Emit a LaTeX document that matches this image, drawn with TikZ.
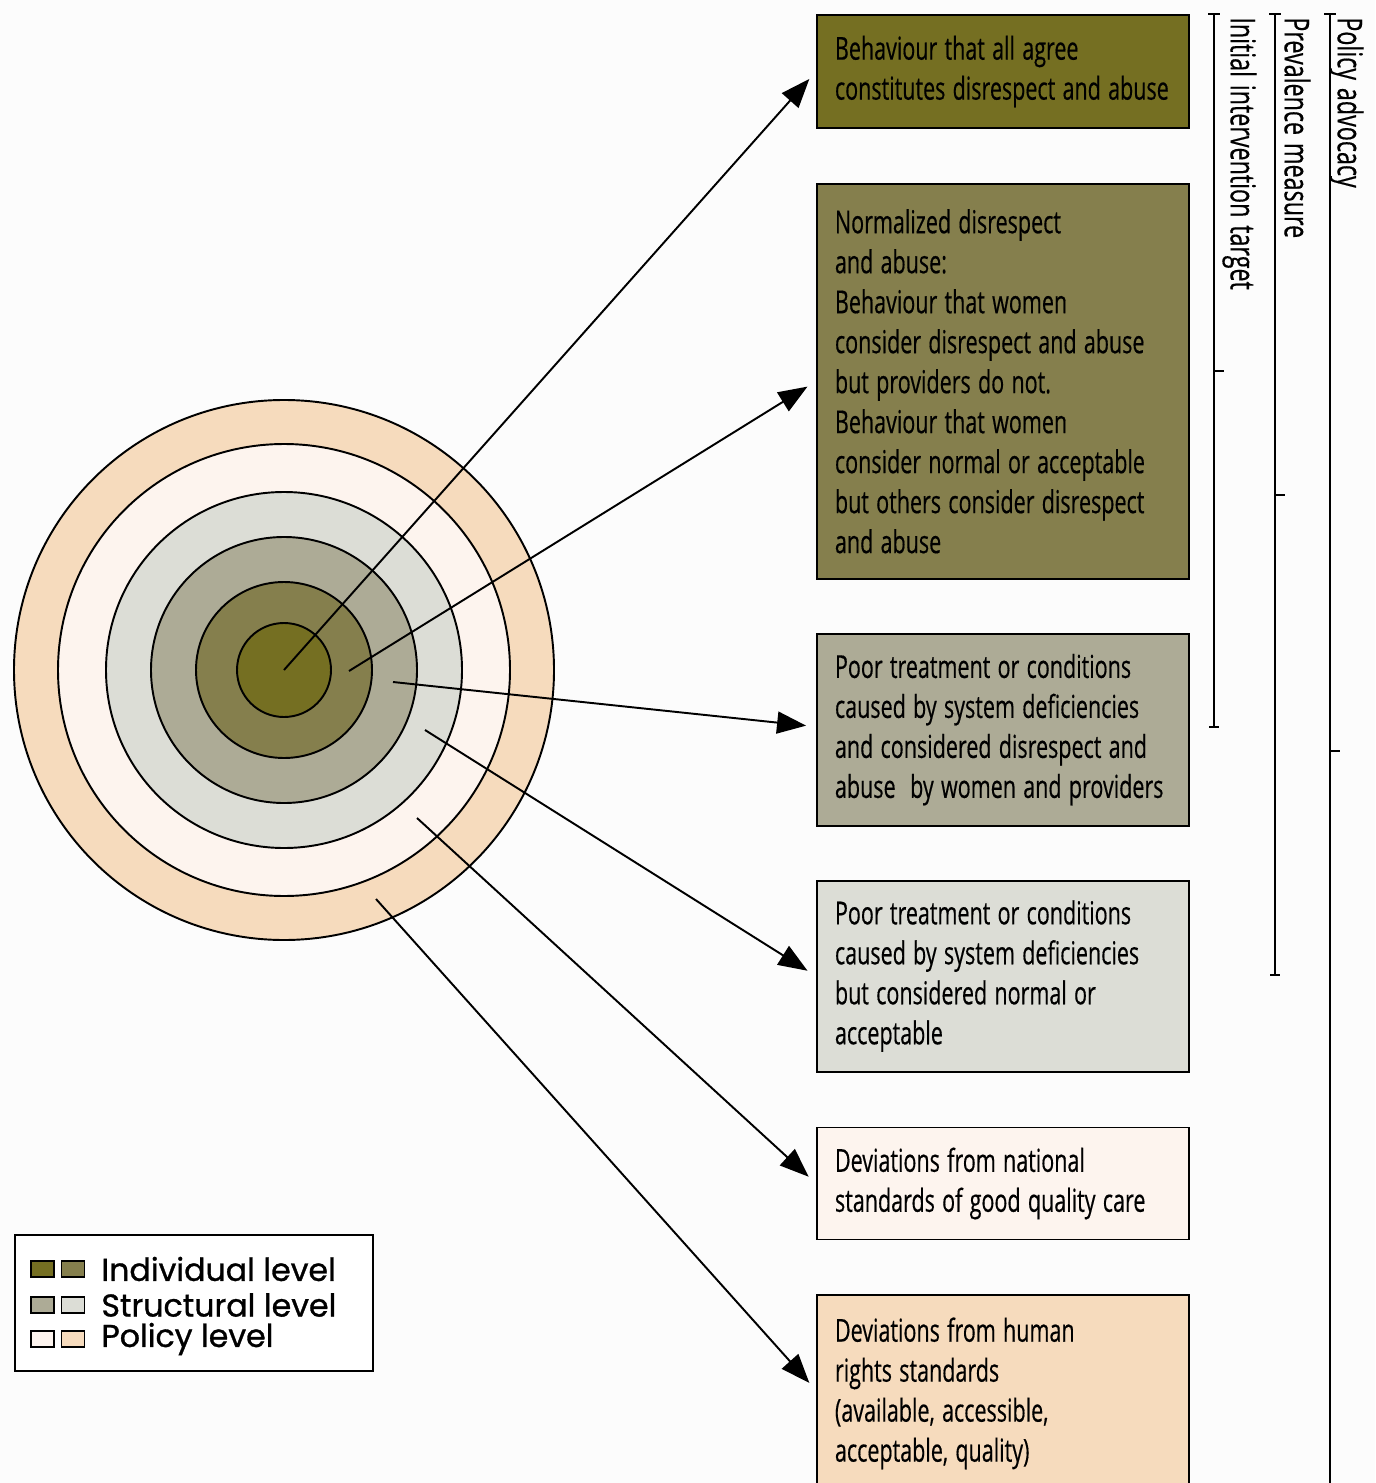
\documentclass[tikz,border=0pt]{standalone}
\usepackage{fontspec}
\usetikzlibrary{positioning,arrows.meta}
\newfontfamily\boxfont{Open Sans}[FakeStretch=0.68, FakeBold=0.4, WordSpace=1.3]
\newfontfamily\legfont{Poppins}[FakeBold=1]
\definecolor{lvlone}{HTML}{756F22}
\definecolor{lvltwo}{HTML}{857F4D}
\definecolor{lvlthree}{HTML}{ADAB96}
\definecolor{lvlfour}{HTML}{DCDDD6}
\definecolor{lvlfive}{HTML}{FDF4EE}
\definecolor{lvlsix}{HTML}{F6DBBD}
\definecolor{paper}{HTML}{FCFCFC}

\begin{document}
\begin{tikzpicture}[
    x=0.02cm, y=-0.02cm,
    ring/.style={draw, line width=1.1pt},
    box/.style={draw, rectangle, line width=1.1pt, minimum width=7.44cm, text width=6.72cm, inner xsep=0.36cm, inner ysep=0pt, align=flush left, font=\boxfont\fontsize{18pt}{22.76pt}\selectfont},
    arr/.style={-{Triangle[length=0.58cm, width=0.44cm]}, line width=1.1pt, shorten >=0.2cm},
    brk/.style={line width=1.1pt},
    side/.style={rotate=-90, anchor=north west, inner sep=0pt, font=\boxfont\fontsize{19.5pt}{22.76pt}\selectfont},
    swatch/.style={draw, line width=0.8pt, minimum width=0.46cm, minimum height=0.32cm, inner sep=0pt},
    legtext/.style={inner sep=0pt, font=\legfont\fontsize{18pt}{20pt}\selectfont}
]
\useasboundingbox (0,0) rectangle (1375,1483);
\fill[paper] (0,0) rectangle (1375,1483);
\clip (0,0) rectangle (1375,1483);

% Rings
\coordinate (ctr) at (284,670);
\draw[ring, fill=lvlsix] (ctr) circle[radius=270];
\draw[ring, fill=lvlfive] (ctr) circle[radius=226];
\draw[ring, fill=lvlfour] (ctr) circle[radius=178];
\draw[ring, fill=lvlthree] (ctr) circle[radius=133];
\draw[ring, fill=lvltwo] (ctr) circle[radius=88];
\draw[ring, fill=lvlone] (ctr) circle[radius=47];

% Boxes
\node[box, fill=lvlone, anchor=north west, minimum height=2.26cm] (agree) at (816,14) {Behaviour that all agree\\constitutes disrespect and abuse};
\node[box, fill=lvltwo, minimum height=7.9cm, below=1.08cm of agree] (normal) {Normalized disrespect\\and abuse:\\Behaviour that women\\consider disrespect and abuse\\but providers do not.\\Behaviour that women\\consider normal or acceptable\\but others consider disrespect\\and abuse};
\node[box, fill=lvlthree, minimum height=3.84cm, below=1.06cm of normal] (poorda) {Poor treatment or conditions\\caused by system deficiencies\\and considered disrespect and\\abuse\ \ by women and providers};
\node[box, fill=lvlfour, minimum height=3.82cm, below=1.06cm of poorda] (poornorm) {Poor treatment or conditions\\caused by system deficiencies\\but considered normal or\\acceptable};
\node[box, fill=lvlfive, minimum height=2.24cm, below=1.08cm of poornorm] (natstd) {Deviations from national\\standards of good quality care};
\node[box, fill=lvlsix, minimum height=3.92cm, below=1.08cm of natstd] (hrstd) {Deviations from human\\rights standards\\(available, accessible,\\acceptable, quality)};

% Arrows
\coordinate (sA) at (349,671);
\coordinate (sB) at (393,682);
\coordinate (sC) at (425,730);
\coordinate (sD) at (417,818);
\coordinate (sE) at (376,899);
\draw[arr] (ctr) -- (agree.west);
\draw[arr] (sA) -- (normal.west);
\draw[arr] (sB) -- ([yshift=0.06cm]poorda.west);
\draw[arr] (sC) -- (poornorm.west);
\draw[arr] (sD) -- (natstd.west);
\draw[arr] (sE) -- ([yshift=0.06cm]hrstd.west);

% Brackets
\coordinate (initT) at (1214,14);
\coordinate (initB) at (1214,727);
\coordinate (initM) at (1214,371);
\coordinate (prevT) at (1275,14);
\coordinate (prevB) at (1275,975);
\coordinate (prevM) at (1275,495);
\coordinate (polT) at (1330,14);
\coordinate (polB) at (1330,1483);
\coordinate (polM) at (1330,751);
\draw[brk] (initT) -- (initB);
\draw[brk] ([xshift=-0.12cm]initT) -- ([xshift=0.12cm]initT);
\draw[brk] ([xshift=-0.1cm]initB) -- ([xshift=0.1cm]initB);
\draw[brk] (initM) -- ([xshift=0.2cm]initM);
\draw[brk] (prevT) -- (prevB);
\draw[brk] ([xshift=-0.12cm]prevT) -- ([xshift=0.12cm]prevT);
\draw[brk] ([xshift=-0.1cm]prevB) -- ([xshift=0.1cm]prevB);
\draw[brk] (prevM) -- ([xshift=0.2cm]prevM);
\draw[brk] (polT) -- (polB);
\draw[brk] ([xshift=-0.12cm]polT) -- ([xshift=0.12cm]polT);
\draw[brk] (polM) -- ([xshift=0.2cm]polM);
\node[side] (initlbl) at (1257,17) {Initial intervention target};
\node[side] (prevlbl) at (1311,17) {Prevalence measure};
\node[side] (pollbl) at (1364,17) {Policy advocacy};

% Legend
\node[draw, line width=1.1pt, fill=white, anchor=north west, minimum width=7.16cm, minimum height=2.72cm] (legend) at (14,1234) {};
\node[swatch, fill=lvlone] (indA) at (42.5,1269) {};
\node[swatch, fill=lvltwo, right=0.12cm of indA] (indB) {};
\node[legtext, anchor=west, right=0.32cm of indB] (indlbl) {Individual level};
\node[swatch, fill=lvlthree] (strA) at (42.5,1305) {};
\node[swatch, fill=lvlfour, right=0.12cm of strA] (strB) {};
\node[legtext, anchor=west, right=0.32cm of strB] (strlbl) {Structural level};
\node[swatch, fill=lvlfive] (polA) at (42.5,1339) {};
\node[swatch, fill=lvlsix, right=0.12cm of polA] (polB2) {};
\node[legtext, anchor=west, right=0.32cm of polB2] (pollvl) {Policy level};
\end{tikzpicture}
\end{document}
